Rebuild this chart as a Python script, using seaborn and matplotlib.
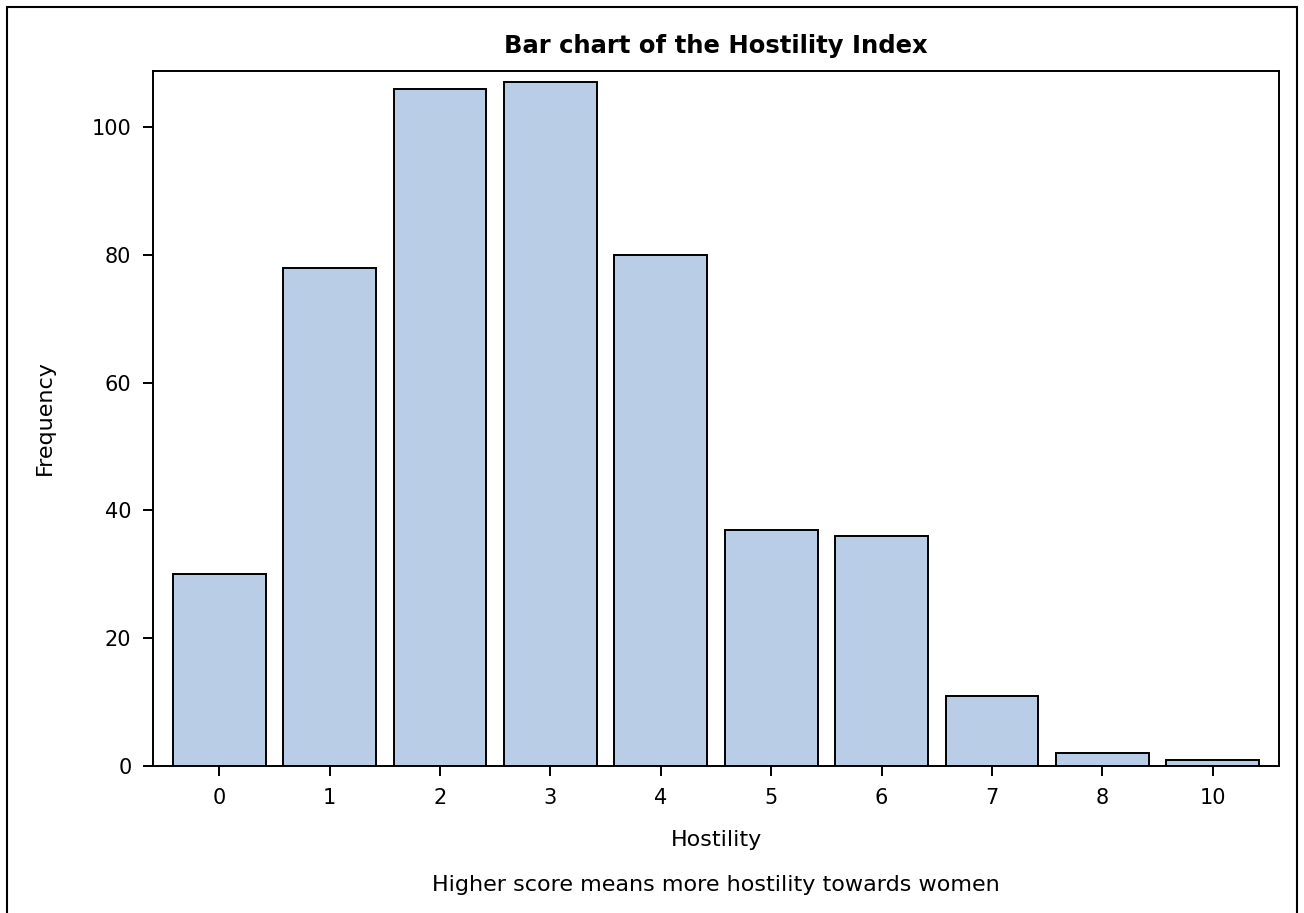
import pandas as pd
import seaborn as sns
import matplotlib.pyplot as plt
from matplotlib.patches import Rectangle

# Data
hostility = ["0", "1", "2", "3", "4", "5", "6", "7", "8", "10"]
frequency = [30, 78, 106, 107, 80, 37, 36, 11, 2, 1]

df = pd.DataFrame({"Hostility": hostility, "Frequency": frequency})

sns.set_theme(style="white")
plt.rcParams["font.family"] = ["DejaVu Sans"]

W, H = 1304, 913
fig = plt.figure(figsize=(W / 100, H / 100), dpi=100)
# axes box: x 153..1279, y 71..766 (pixels)
ax = fig.add_axes([153 / W, (H - 766) / H, (1279 - 153) / W, (766 - 71) / H])

sns.barplot(data=df, x="Hostility", y="Frequency", order=hostility,
            color="#B9CEE6", saturation=1, width=0.84,
            edgecolor="black", linewidth=1.4, ax=ax)

ax.set_xlim(-0.6, 9.6)
ax.set_ylim(0, 108.8)
ax.set_yticks([0, 20, 40, 60, 80, 100])

for s in ax.spines.values():
    s.set_visible(True)
    s.set_color("black")
    s.set_linewidth(1.4)

ax.tick_params(axis="both", bottom=True, left=True, direction="out",
               length=7.5, width=1.4, color="black", labelsize=15,
               labelcolor="black", pad=8)

ax.set_xlabel("")
ax.set_ylabel("")

# texts placed in figure pixels to match the reference
fig.text(716 / W, (H - 53) / H, "Bar chart of the Hostility Index",
         ha="center", va="baseline", fontsize=17.5, fontweight="bold",
         color="black")
fig.text(716 / W, (H - 846) / H, "Hostility",
         ha="center", va="baseline", fontsize=16, color="black")
fig.text(45 / W, (H - 418) / H, "Frequency", rotation=90,
         ha="center", va="center", fontsize=16, color="black")
fig.text(716 / W, (H - 891) / H, "Higher score means more hostility towards women",
         ha="center", va="baseline", fontsize=16, color="black")

# Outer frame around the whole figure
fig.patches.append(Rectangle((7 / W, -0.01), 1 - 14 / W, 1.01 - 7 / H,
                             transform=fig.transFigure, fill=False,
                             edgecolor="black", linewidth=1.5))

fig.savefig("out.png", dpi=100)
